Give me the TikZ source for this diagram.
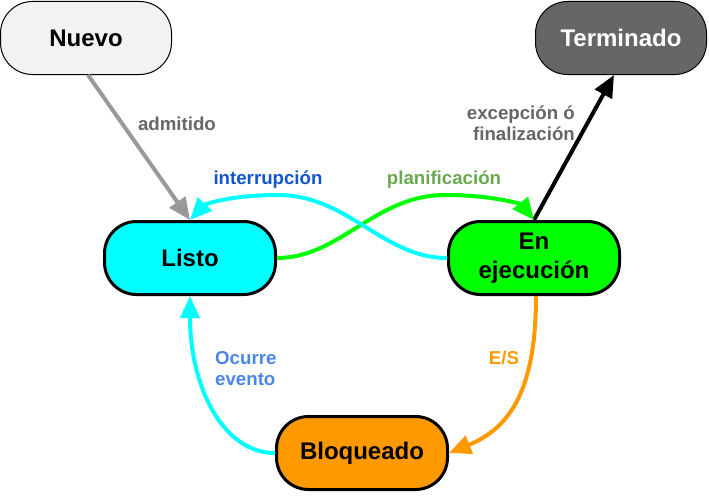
\documentclass[tikz,border=0pt]{standalone}
\usepackage{fontspec}
\setmainfont{Liberation Sans}
\usepackage{xcolor}
\usetikzlibrary{positioning, arrows.meta}
\definecolor{nuevogris}{HTML}{F2F2F2}
\definecolor{termgris}{HTML}{666666}
\definecolor{flechagris}{HTML}{999999}
\definecolor{azulint}{HTML}{1155CC}
\definecolor{azulev}{HTML}{4A86E8}
\definecolor{verdeplan}{HTML}{6AA84F}
\definecolor{naranja}{HTML}{FF9900}
\definecolor{cian}{HTML}{00FFFF}
\definecolor{verde}{HTML}{00FF00}

\begin{document}
\begin{tikzpicture}[
  x=1pt, y=-1pt,
  >={Triangle[length=22pt,width=19pt]},
  estado/.style={rectangle, rounded corners=32pt, minimum width=171pt,
    minimum height=73pt, align=center, font=\fontsize{24}{29}\selectfont\bfseries},
  etiqueta/.style={font=\fontsize{18.67}{21}\selectfont\bfseries, inner sep=0pt},
  flecha/.style={line width=4pt, ->}
]
  \useasboundingbox (0,0) rectangle (709,495);
  \node[estado, draw, line width=1pt, fill=nuevogris] (nuevo) at (86,38) {Nuevo};
  \node[estado, draw, line width=1pt, fill=termgris, text=white] (terminado) at (621,38) {Terminado};
  \node[estado, draw, line width=3pt, fill=cian] (listo) at (190,258) {Listo};
  \node[estado, draw, line width=3pt, fill=verde] (ejecucion) at (534,258) {En\\ejecución};
  \node[estado, draw, line width=3pt, fill=naranja] (bloqueado) at (362,453) {Bloqueado};
  % transiciones
  \draw[flecha, flechagris] ([xshift=2pt]nuevo.south) -- (listo.north);
  \draw[flecha, black] (ejecucion.north) -- ([xshift=-7pt]terminado.south);
  \draw[flecha, verde] (listo.east)
    .. controls (340,258) and (375,195) .. (445,195)
    .. controls (495,195) and (522,205) .. (ejecucion.north);
  \draw[flecha, cian] (ejecucion.west)
    .. controls (383,258) and (348,195) .. (278,195)
    .. controls (228,195) and (204,205) .. (listo.north);
  \draw[flecha, naranja] ([xshift=2pt]ejecucion.south)
    .. controls (536,390) and (510,428) .. (bloqueado.east);
  \draw[flecha, cian] (bloqueado.west)
    .. controls (222,453) and (190,385) .. (listo.south);
  % etiquetas
  \node[etiqueta, text=termgris] (admitido) at (177,124) {admitido};
  \node[etiqueta, text=azulint] (interrupcion) at (268,180) {interrupción};
  \node[etiqueta, text=verdeplan] (planificacion) at (444,180) {planificación};
  \node[etiqueta, text=termgris, align=right, anchor=east] (excepcion) at (575,123) {excepción ó\\finalización};
  \node[etiqueta, text=azulev, align=left, anchor=west] (ocurre) at (215,369) {Ocurre\\evento};
  \node[etiqueta, text=naranja] (es) at (504,358) {E/S};
\end{tikzpicture}
\end{document}
